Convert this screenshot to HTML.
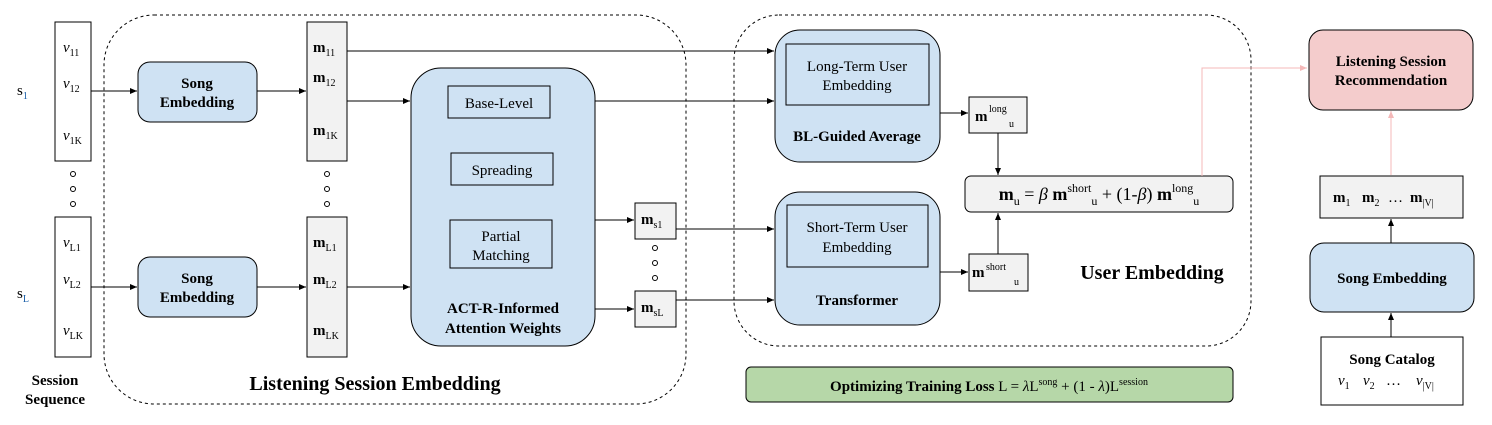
<!DOCTYPE html>
<html><head><meta charset="utf-8"><style>
html,body{margin:0;padding:0;background:#fff}
svg{display:block;font-family:"Liberation Serif",serif}
.b{font-weight:bold}
</style></head><body>
<svg width="1492" height="425" viewBox="0 0 1492 425" xmlns="http://www.w3.org/2000/svg">
<defs>
<marker id="a" markerWidth="8" markerHeight="8" refX="7" refY="3" orient="auto" markerUnits="userSpaceOnUse"><path d="M0,0 L7,3 L0,6 z" fill="#000"/></marker>
<marker id="p" markerWidth="8" markerHeight="8" refX="7" refY="3" orient="auto" markerUnits="userSpaceOnUse"><path d="M0,0 L7,3 L0,6 z" fill="#f4b8b8"/></marker>
</defs>
<rect x="104" y="15" width="582" height="389" rx="50" fill="none" stroke="#000" stroke-dasharray="3,3"/>
<rect x="734" y="15" width="517" height="331" rx="45" fill="none" stroke="#000" stroke-dasharray="3,3"/>

<text x="17" y="95" font-size="15">s<tspan font-size="10" dy="4" fill="#1a5fa8">1</tspan></text>
<text x="17" y="298" font-size="15">s<tspan font-size="10" dy="4" fill="#1a5fa8">L</tspan></text>
<rect x="55" y="22" width="36" height="139" fill="#fff" stroke="#000"/>
<rect x="55" y="217" width="36" height="140" fill="#fff" stroke="#000"/>
<g font-size="15" font-style="italic">
<text x="63" y="52">v<tspan font-size="10" font-style="normal" dy="4">11</tspan></text>
<text x="63" y="88">v<tspan font-size="10" font-style="normal" dy="4">12</tspan></text>
<text x="63" y="140">v<tspan font-size="10" font-style="normal" dy="4">1K</tspan></text>
<text x="63" y="247">v<tspan font-size="10" font-style="normal" dy="4">L1</tspan></text>
<text x="63" y="284">v<tspan font-size="10" font-style="normal" dy="4">L2</tspan></text>
<text x="63" y="335">v<tspan font-size="10" font-style="normal" dy="4">LK</tspan></text>
</g>
<g fill="none" stroke="#000">
<circle cx="73" cy="174" r="2.5"/><circle cx="73" cy="189" r="2.5"/><circle cx="73" cy="204" r="2.5"/>
<circle cx="327" cy="174" r="2.5"/><circle cx="327" cy="189" r="2.5"/><circle cx="327" cy="204" r="2.5"/>
<circle cx="655" cy="248" r="2.5"/><circle cx="655" cy="263" r="2.5"/><circle cx="655" cy="278" r="2.5"/>
</g>
<text x="55" y="385" font-size="15" class="b" text-anchor="middle">Session</text>
<text x="55" y="404" font-size="15" class="b" text-anchor="middle">Sequence</text>

<rect x="138" y="62" width="119" height="60" rx="12" fill="#cfe2f3" stroke="#000"/>
<text x="197" y="88" font-size="15" class="b" text-anchor="middle">Song</text>
<text x="197" y="107" font-size="15" class="b" text-anchor="middle">Embedding</text>
<rect x="138" y="257" width="119" height="60" rx="12" fill="#cfe2f3" stroke="#000"/>
<text x="197" y="283" font-size="15" class="b" text-anchor="middle">Song</text>
<text x="197" y="302" font-size="15" class="b" text-anchor="middle">Embedding</text>

<g stroke="#000" marker-end="url(#a)">
<line x1="91" y1="91" x2="137" y2="91"/>
<line x1="257" y1="91" x2="306" y2="91"/>
<line x1="91" y1="287" x2="137" y2="287"/>
<line x1="257" y1="287" x2="306" y2="287"/>
<line x1="347" y1="101" x2="410" y2="101"/>
<line x1="347" y1="287" x2="410" y2="287"/>
<line x1="347" y1="51" x2="774" y2="51"/>
<line x1="550" y1="101" x2="774" y2="101"/>
<line x1="595" y1="220" x2="634" y2="220"/>
<line x1="595" y1="309" x2="634" y2="309"/>
<line x1="676" y1="229" x2="774" y2="229"/>
<line x1="676" y1="300" x2="774" y2="300"/>
<line x1="940" y1="113" x2="968" y2="113"/>
<line x1="940" y1="272" x2="968" y2="272"/>
<line x1="998" y1="133" x2="998" y2="175"/>
<line x1="998" y1="254" x2="998" y2="213"/>
<line x1="1391" y1="243" x2="1391" y2="219"/>
<line x1="1391" y1="337" x2="1391" y2="313"/>
</g>

<rect x="307" y="22" width="40" height="139" fill="#f2f2f2" stroke="#000"/>
<rect x="307" y="217" width="40" height="140" fill="#f2f2f2" stroke="#000"/>
<g font-size="15" class="b">
<text x="313" y="52">m<tspan font-size="10" font-weight="normal" dy="4">11</tspan></text>
<text x="313" y="82">m<tspan font-size="10" font-weight="normal" dy="4">12</tspan></text>
<text x="313" y="135">m<tspan font-size="10" font-weight="normal" dy="4">1K</tspan></text>
<text x="313" y="247">m<tspan font-size="10" font-weight="normal" dy="4">L1</tspan></text>
<text x="313" y="284">m<tspan font-size="10" font-weight="normal" dy="4">L2</tspan></text>
<text x="313" y="335">m<tspan font-size="10" font-weight="normal" dy="4">LK</tspan></text>
</g>

<rect x="411" y="68" width="184" height="278" rx="30" fill="#cfe2f3" stroke="#000"/>
<rect x="448" y="86" width="102" height="32" fill="#cfe2f3" stroke="#000"/>
<text x="499" y="108" font-size="15" text-anchor="middle">Base-Level</text>
<rect x="451" y="153" width="102" height="32" fill="#cfe2f3" stroke="#000"/>
<text x="502" y="175" font-size="15" text-anchor="middle">Spreading</text>
<rect x="450" y="220" width="102" height="48" fill="#cfe2f3" stroke="#000"/>
<text x="501" y="241" font-size="15" text-anchor="middle">Partial</text>
<text x="501" y="260" font-size="15" text-anchor="middle">Matching</text>
<text x="503" y="313" font-size="15" class="b" text-anchor="middle">ACT-R-Informed</text>
<text x="503" y="333" font-size="15" class="b" text-anchor="middle">Attention Weights</text>

<rect x="635" y="203" width="41" height="36" fill="#f2f2f2" stroke="#000"/>
<text x="641" y="224" font-size="15" class="b">m<tspan font-size="10" font-weight="normal" dy="4">s1</tspan></text>
<rect x="635" y="291" width="41" height="36" fill="#f2f2f2" stroke="#000"/>
<text x="641" y="312" font-size="15" class="b">m<tspan font-size="10" font-weight="normal" dy="4">sL</tspan></text>

<text x="375" y="390" font-size="20" class="b" text-anchor="middle">Listening Session Embedding</text>

<rect x="775" y="30" width="165" height="132" rx="25" fill="#cfe2f3" stroke="#000"/>
<rect x="786" y="44" width="143" height="61" fill="#cfe2f3" stroke="#000"/>
<text x="857" y="71" font-size="15" text-anchor="middle">Long-Term User</text>
<text x="857" y="90" font-size="15" text-anchor="middle">Embedding</text>
<text x="857" y="141" font-size="15" class="b" text-anchor="middle">BL-Guided Average</text>

<rect x="775" y="192" width="165" height="133" rx="25" fill="#cfe2f3" stroke="#000"/>
<rect x="787" y="205" width="141" height="62" fill="#cfe2f3" stroke="#000"/>
<text x="857" y="232" font-size="15" text-anchor="middle">Short-Term User</text>
<text x="857" y="252" font-size="15" text-anchor="middle">Embedding</text>
<text x="857" y="305" font-size="15" class="b" text-anchor="middle">Transformer</text>

<rect x="969" y="97" width="58" height="36" fill="#f2f2f2" stroke="#000"/>
<text x="975" y="121" font-size="15" class="b">m</text><text x="989" y="112" font-size="10">long</text><text x="1009" y="127" font-size="10">u</text>
<rect x="969" y="254" width="59" height="37" fill="#f2f2f2" stroke="#000"/>
<text x="972" y="277" font-size="15" class="b">m</text><text x="986" y="270" font-size="10">short</text><text x="1014" y="285" font-size="10">u</text>

<rect x="965" y="176" width="268" height="36" rx="6" fill="#f2f2f2" stroke="#000"/>
<text x="1099" y="200" font-size="18" text-anchor="middle"><tspan font-weight="bold">m</tspan><tspan font-size="12" dy="5">u</tspan><tspan dy="-5"> = </tspan><tspan font-style="italic">β</tspan> <tspan font-weight="bold">m</tspan><tspan font-size="12" dy="-8">short</tspan><tspan font-size="12" dy="13">u</tspan><tspan dy="-5"> + (1-</tspan><tspan font-style="italic">β</tspan>) <tspan font-weight="bold">m</tspan><tspan font-size="12" dy="-8">long</tspan><tspan font-size="12" dy="13">u</tspan></text>

<text x="1152" y="279" font-size="20" class="b" text-anchor="middle">User Embedding</text>

<rect x="746" y="367" width="487" height="35" rx="5" fill="#b6d7a8" stroke="#000"/>
<text x="989" y="391" font-size="15" text-anchor="middle"><tspan font-weight="bold">Optimizing Training Loss</tspan> L = <tspan font-style="italic">λ</tspan>L<tspan font-size="10" dy="-6">song</tspan><tspan dy="6"> + (1 - </tspan><tspan font-style="italic">λ</tspan>)L<tspan font-size="10" dy="-6">session</tspan></text>

<polyline points="1202,176 1202,68 1307,68" fill="none" stroke="#f4b8b8" marker-end="url(#p)"/>
<line x1="1391" y1="175" x2="1391" y2="111" stroke="#f4b8b8" marker-end="url(#p)"/>
<rect x="1309" y="30" width="164" height="80" rx="14" fill="#f4cccc" stroke="#000"/>
<text x="1391" y="66" font-size="15" class="b" text-anchor="middle">Listening Session</text>
<text x="1391" y="85" font-size="15" class="b" text-anchor="middle">Recommendation</text>

<rect x="1320" y="176" width="143" height="42" fill="#f2f2f2" stroke="#000"/>
<g font-size="15">
<text x="1333" y="202"><tspan font-weight="bold">m</tspan><tspan font-size="10" dy="4">1</tspan></text>
<text x="1362" y="202"><tspan font-weight="bold">m</tspan><tspan font-size="10" dy="4">2</tspan></text>
<text x="1388" y="202">…</text>
<text x="1410" y="202"><tspan font-weight="bold">m</tspan><tspan font-size="10" dy="4">|V|</tspan></text>
</g>

<rect x="1310" y="243" width="164" height="69" rx="14" fill="#cfe2f3" stroke="#000"/>
<text x="1392" y="283" font-size="15" class="b" text-anchor="middle">Song Embedding</text>

<rect x="1321" y="337" width="142" height="68" fill="#fff" stroke="#000"/>
<text x="1392" y="364" font-size="15" class="b" text-anchor="middle">Song Catalog</text>
<g font-size="15">
<text x="1338" y="385" font-style="italic">v<tspan font-size="10" font-style="normal" dy="4">1</tspan></text>
<text x="1363" y="385" font-style="italic">v<tspan font-size="10" font-style="normal" dy="4">2</tspan></text>
<text x="1386" y="385">…</text>
<text x="1416" y="385" font-style="italic">v<tspan font-size="10" font-style="normal" dy="4">|V|</tspan></text>
</g>
</svg>
</body></html>
